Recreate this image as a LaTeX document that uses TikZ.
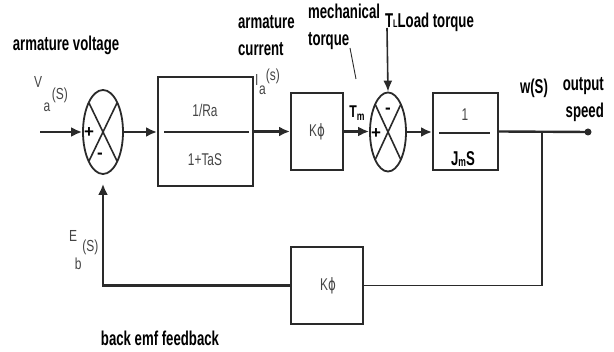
\documentclass[tikz,border=0pt]{standalone}
\usepackage{fontspec}
\setmainfont{Liberation Sans}
\newfontfamily\dvfont{DejaVu Sans}
\usetikzlibrary{arrows.meta,shapes.geometric,calc}
\definecolor{lc}{HTML}{2A2A2A}
\definecolor{tg}{HTML}{444444}
\begin{document}
\begin{tikzpicture}[x=1pt,y=-1pt,
  ln/.style={line width=2.4pt, draw=lc},
  arr/.style={ln, -{Latex[length=11pt,width=10pt]}},
  blk/.style={draw=lc, line width=2pt, rectangle, inner sep=0pt},
  sumj/.style={draw=lc, line width=1.8pt, ellipse, inner sep=0pt},
  bl/.style={font=\bfseries\fontsize{20}{27}\selectfont, xscale=0.66, inner sep=0pt, text=black},
  rg/.style={font=\fontsize{17}{18}\selectfont, xscale=0.7, inner sep=0pt, text=tg},
  sg/.style={font=\fontsize{16}{18}\selectfont, xscale=0.75, inner sep=0pt, text=tg},
]
\useasboundingbox (0,0) rectangle (614,352);

% blocks
\node[blk, minimum width=95pt, minimum height=109pt] (b1) at (205.5,131.5) {};
\node[blk, minimum width=52pt, minimum height=77pt] (k1) at (317,131.5) {};
\node[blk, minimum width=65pt, minimum height=77pt] (b3) at (465.5,131.5) {};
\node[blk, minimum width=72pt, minimum height=77pt] (k2) at (327,285.5) {};

% summing junctions
\node[sumj, minimum width=40pt, minimum height=84pt] (s1) at (103,132) {};
\node[sumj, minimum width=36pt, minimum height=79pt] (s2) at (388,132) {};
\draw[lc, line width=1.6pt] ($(s1)+(-14,-29)$) -- ($(s1)+(14,29)$);
\draw[lc, line width=1.6pt] ($(s1)+(14,-29)$) -- ($(s1)+(-14,29)$);
\draw[lc, line width=1.6pt] ($(s2)+(-12.5,-27)$) -- ($(s2)+(12.5,27)$);
\draw[lc, line width=1.6pt] ($(s2)+(12.5,-27)$) -- ($(s2)+(-12.5,27)$);
\node[font=\bfseries\fontsize{17}{17}\selectfont, inner sep=0pt] (p1) at (89,133) {+};
\node[font=\bfseries\fontsize{17}{17}\selectfont, inner sep=0pt] (m1) at (100,156) {-};
\node[font=\bfseries\fontsize{17}{17}\selectfont, inner sep=0pt] (p2) at (376,134) {+};
\node[font=\bfseries\fontsize{17}{17}\selectfont, inner sep=0pt] (m2) at (388,111) {-};

% fraction lines
\draw[lc, line width=2.2pt] ($(b1.west)+(7,0.5)$) -- ($(b1.east)+(-5,0.5)$);
\draw[lc, line width=2.2pt] ($(b3.west)+(7,1.5)$) -- ($(b3.east)+(-9,1.5)$);

% block texts
\node[rg] (t1) at (205,110) {1/Ra};
\node[rg] (t2) at (205,160) {1+TaS};
\node[rg] (kt1) at (317,132) {K{\dvfont ϕ}};
\node[rg] (kt2) at (328,286) {K{\dvfont ϕ}};
\node[rg] (t3) at (465,115) {1};
\node[bl] (jm) at (463,159) {J\raisebox{-1pt}{\fontsize{13}{13}\selectfont m}S};

% connectors
\coordinate (vin) at (40,132);
\draw[arr] (vin) -- (s1.west);
\draw[arr] (s1.east) -- (s1.east -| b1.west);
\draw[arr] (b1.east) -- (b1.east -| k1.west);
\draw[arr] (k1.east) -- (k1.east -| s2.west);
\draw[arr] (s2.east) -- (s2.east -| b3.west);
\node[circle, fill=lc, inner sep=0pt, minimum size=7pt] (out) at (588,132) {};
\draw[ln] (b3.east) -- (out.center);
\coordinate (br) at (542,132);
\draw[lc, line width=1.8pt] (br) |- (k2.east);
\draw[arr] (k2.west) -| ($(s1.south)+(0,9)$);
\coordinate (tl) at (387,28);
\draw[lc, line width=1.6pt, -{Latex[length=11pt,width=9pt]}] (tl) -- (s2.north);
\coordinate (lp1) at (350,48);
\coordinate (lp2) at (356,79);
\draw[lc, line width=0.9pt] (lp1) -- (lp2);

% labels
\node[bl] (av) at (66,45) {armature voltage};
\node[bl, align=left, anchor=west] (ac) at (238,36) {armature\\current};
\node[bl, align=left, anchor=west] (mt) at (308,27) {mechanical\\torque};
\node[bl, anchor=west] (lt) at (385,22) {T{\fontsize{11}{11}\selectfont L}Load torque};
\node[bl] (ws) at (534,88) {w(S)};
\node[bl, align=right, anchor=east] (os) at (604,100) {output\\speed};
\node[bl] (bf) at (160,338) {back emf feedback};
\node[font=\bfseries\fontsize{17}{17}\selectfont, xscale=0.72, inner sep=0pt] (tm) at (357,113) {T\raisebox{-3pt}{\fontsize{12}{12}\selectfont m}};
\node[sg, anchor=base west] (va) at (34,88) {V\kern2pt\raisebox{-24pt}{a}\kern2pt\raisebox{-12pt}{(S)}};
\node[sg, anchor=base west] (ia) at (255,86) {I\kern1pt\raisebox{-9pt}{a}\raisebox{5pt}{(s)}};
\node[sg, anchor=base west] (eb) at (69,242) {E\kern-3pt\raisebox{-28pt}{b}\kern1pt\raisebox{-10pt}{(S)}};
\end{tikzpicture}
\end{document}
